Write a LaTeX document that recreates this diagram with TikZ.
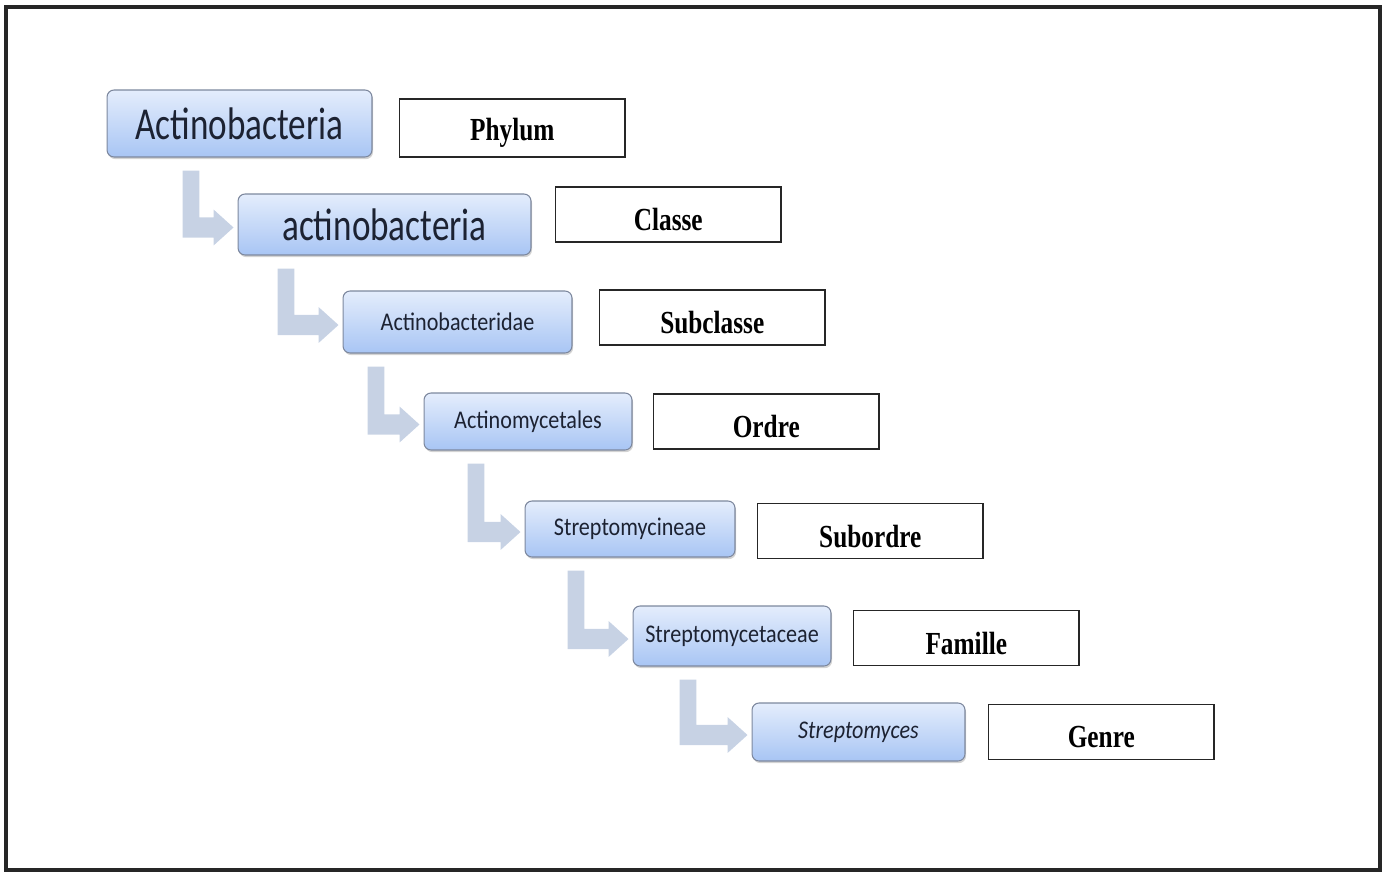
\documentclass[tikz,border=0pt]{standalone}
\usepackage{fontspec}
\setmainfont{Liberation Serif}
\newfontfamily\calibfont{Carlito}
\usepackage{graphicx}
\usepackage{tikz}
\usetikzlibrary{positioning,calc,shadows}

\definecolor{boxtop}{RGB}{228,237,252}
\definecolor{boxbot}{RGB}{168,197,244}
\definecolor{boxline}{RGB}{125,136,158}
\definecolor{stemcol}{RGB}{199,210,228}
\definecolor{txtcol}{RGB}{28,34,50}

% bent arrow: from box #1 down and right into box #2, stem #3 px from left
\newcommand{\stemarrow}[3]{%
  \fill[stem] let \p1=($(#1.south west)+(#3,13)$), \p2=($(#2.west)+(-4,3)$) in
    (\x1,\y1) -- (\x1+9.6pt,\y1) -- (\x1+9.6pt,\y2+5.7pt) -- (\x2-11.3pt,\y2+5.7pt)
    -- (\x2-11.3pt,\y2+10.2pt) -- (\x2,\y2) -- (\x2-11.3pt,\y2-10.2pt)
    -- (\x2-11.3pt,\y2-5.7pt) -- (\x1,\y2-5.7pt) -- cycle;}

\newcommand{\tallbig}[1]{\scalebox{1}[1.3]{\fontsize{20}{23}\selectfont #1}}
\newcommand{\tallsmall}[1]{\scalebox{1}[1.15]{\fontsize{12.6}{15}\selectfont #1}}
\newcommand{\rankname}[1]{\raisebox{-3pt}[\height][\depth]{\scalebox{0.96}[1.22]{#1}}}

\begin{document}
\begin{tikzpicture}[
    x=0.02cm, y=-0.02cm,
    taxon/.style={draw=boxline, line width=0.6pt, rounded corners=4pt,
                  top color=boxtop, bottom color=boxbot, text=txtcol,
                  font=\calibfont, inner sep=0pt,
                  drop shadow={opacity=0.35, shadow xshift=0.6pt, shadow yshift=-1.2pt}},
    rank/.style={draw=black!85, line width=0.9pt, fill=white, inner sep=0pt,
                 minimum width=4.52cm, minimum height=1.1cm,
                 font=\bfseries\fontsize{15}{18}\selectfont},
    stem/.style={fill=stemcol}
]
    \useasboundingbox (0,0) rectangle (1385,875);
    \draw[line width=2pt, black!85] (6,7) rectangle (1380,870);

    % taxa
    \node[taxon, minimum width=5.30cm, minimum height=1.34cm] (phylum) at (239.5,123.5) {\tallbig{Actinobacteria}};
    \node[taxon, minimum width=5.86cm, minimum height=1.22cm] (classe) at (384.5,224.5) {\tallbig{actinobacteria}};
    \node[taxon, minimum width=4.58cm, minimum height=1.24cm] (subcl) at (457.5,322) {\tallsmall{Actinobacteridae}};
    \node[taxon, minimum width=4.16cm, minimum height=1.14cm] (ordre) at (528,421.5) {\tallsmall{Actinomycetales}};
    \node[taxon, minimum width=4.20cm, minimum height=1.12cm] (subor) at (630,529) {\tallsmall{Streptomycineae}};
    \node[taxon, minimum width=3.96cm, minimum height=1.20cm] (famil) at (732,636) {\tallsmall{Streptomycetaceae}};
    \node[taxon, minimum width=4.26cm, minimum height=1.16cm] (genre) at (858.5,732) {\tallsmall{\itshape Streptomyces}};

    % ranks
    \node[rank, minimum height=1.16cm, right=0.52cm of phylum, yshift=-0.09cm] (rphylum) {\rankname{Phylum}};
    \node[rank, right=0.46cm of classe, yshift=0.2cm] (rclasse) {\rankname{Classe}};
    \node[rank, right=0.52cm of subcl, yshift=0.09cm] (rsubcl) {\rankname{Subclasse}};
    \node[rank, right=0.40cm of ordre] (rordre) {\rankname{Ordre}};
    \node[rank, right=0.42cm of subor, yshift=-0.04cm] (rsubor) {\rankname{Subordre}};
    \node[rank, right=0.42cm of famil, yshift=-0.04cm] (rfamil) {\rankname{Famille}};
    \node[rank, right=0.44cm of genre] (rgenre) {\rankname{Genre}};

    % arrows
    \stemarrow{phylum}{classe}{76}
    \stemarrow{classe}{subcl}{40}
    \stemarrow{subcl}{ordre}{25}
    \stemarrow{ordre}{subor}{44}
    \stemarrow{subor}{famil}{43}
    \stemarrow{famil}{genre}{47}
\end{tikzpicture}
\end{document}
